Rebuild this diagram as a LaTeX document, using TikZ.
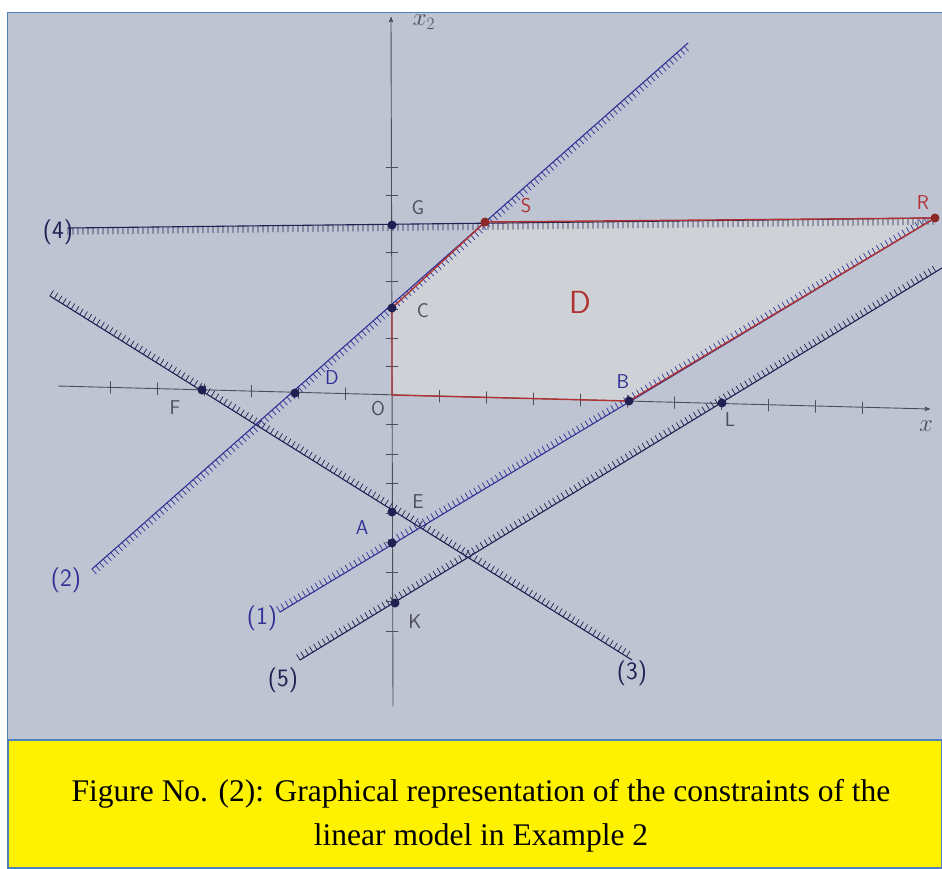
\documentclass[tikz,border=0pt]{standalone}
\usepackage{fontspec}
\setmainfont{Liberation Serif}
\usepackage{tikz}
\usetikzlibrary{arrows,positioning,decorations.pathreplacing}

\definecolor{paper}{RGB}{190,196,210}
\definecolor{regionfill}{RGB}{206,209,214}
\definecolor{inkblue}{RGB}{50,50,150}
\definecolor{inknavy}{RGB}{32,32,82}
\definecolor{pencil}{RGB}{78,78,90}
\definecolor{redink}{RGB}{176,50,50}
\definecolor{frameblue}{RGB}{79,129,189}

\tikzset{
	hatchL/.style={postaction={draw,line width=0.7pt,decorate,decoration={border,segment length=5pt,amplitude=6.5pt,angle=90}}},
	hatchR/.style={postaction={draw,line width=0.7pt,decorate,decoration={border,segment length=5pt,amplitude=-6.5pt,angle=90}}},
	lbl/.style={font=\sffamily\fontsize{20}{22}\selectfont,text=pencil},
	cstr/.style={font=\sffamily\fontsize{25}{27}\selectfont},
	axis/.style={draw=pencil,line width=0.9pt},
}

\begin{document}
\begin{tikzpicture}[x=1pt,y=-1pt,>=stealth',line cap=round]
	\useasboundingbox (0,0) rectangle (942,868);
	\fill[white] (0,0) rectangle (942,868);
	\filldraw[fill=paper,draw=frameblue] (7,12) rectangle (942,740);
	\filldraw[fill=yellow,draw=frameblue,line width=1.2pt] (8,740) rectangle (942,868);
	\node[font=\fontsize{31.5}{44}\selectfont,align=center] (cap) at (481,816)
		{Figure No. (2): Graphical representation of the constraints of the\\linear model in Example 2};

	% corner points
	\coordinate (O) at (392,395);
	\coordinate (G) at (392,225);
	\coordinate (C) at (392,308);
	\coordinate (S) at (485,222);
	\coordinate (R) at (935,218);
	\coordinate (B) at (629,401);
	\coordinate (L) at (722,403);
	\coordinate (F) at (202,390);
	\coordinate (D) at (295,393);
	\coordinate (E) at (392,512);
	\coordinate (A) at (392,543);
	\coordinate (K) at (395,603);

	% line ends
	\coordinate (p1) at (280,612);
	\coordinate (p2) at (92,569);
	\coordinate (q2) at (688,43);
	\coordinate (p3) at (50,296);
	\coordinate (q3) at (632,660);
	\coordinate (p4) at (68,228);
	\coordinate (p5) at (300,660);
	\coordinate (q5) at (942,268);
	\coordinate (ybot) at (393,706);
	\coordinate (ytop) at (391,17);
	\coordinate (xl) at (58,386);
	\coordinate (xr) at (930,409);

	\fill[regionfill] (O) -- (C) -- (S) -- (R) -- (B) -- cycle;

	% axes
	\draw[axis,->] (ybot) -- (ytop);
	\draw[axis,->] (xl) -- (xr);
	\foreach \k in {-6,...,-1,1,2,...,10}
		\draw[pencil] ({392+47*\k},{389+1.27*\k}) -- ++(0,12);
	\foreach \y in {167,195.5,224,252.5,281,309.5,338,366.5,424.5,454,483.5,513,542.5,572,601.5,631}
		\draw[pencil] (386,\y) -- (398,\y);

	% constraints
	\draw[inkblue,line width=1.1pt,hatchL] (p1) -- (R);
	\draw[inkblue,line width=1.1pt,hatchR] (p2) -- (q2);
	\draw[inknavy,line width=1.1pt,hatchL] (p3) -- (q3);
	\draw[inknavy,line width=1.1pt,hatchR] (p4) -- (R);
	\draw[inknavy,line width=1.1pt,hatchL] (p5) -- (q5);

	\draw[redink,line width=1.4pt] (O) -- (C) -- (S) -- (R) -- (B) -- cycle;

	\foreach \p in {G,C,D,F,B,L,E,A,K}
		\fill[inknavy] (\p) circle (4.5);
	\foreach \p in {S,R}
		\fill[redink!80!black] (\p) circle (4.5);

	% labels
	\node[lbl,font=\fontsize{24}{26}\selectfont] (lx2) at (424,22) {$x_2$};
	\node[lbl] (lG) at (418,208) {G};
	\node[lbl,text=redink] (lS) at (526,206) {S};
	\node[lbl,text=redink] (lR) at (923,203) {R};
	\node[lbl] (lC) at (423,311) {C};
	\node[lbl,text=inkblue] (lD) at (332,378) {D};
	\node[lbl] (lF) at (175,408) {F};
	\node[lbl] (lO) at (378,409) {O};
	\node[lbl,text=inkblue] (lB) at (623,382) {B};
	\node[lbl] (lL) at (730,420) {L};
	\node[lbl,font=\fontsize{24}{26}\selectfont] (lx) at (926,426) {$x$};
	\node[lbl] (lE) at (418,502) {E};
	\node[lbl,text=inkblue] (lA) at (362,528) {A};
	\node[lbl] (lK) at (415,622) {K};
	\node[font=\sffamily\fontsize{32}{34}\selectfont,text=redink] (reg) at (580,302) {D};

	\node[cstr,text=inkblue] (c1) at (262,618) {(1)};
	\node[cstr,text=inkblue] (c2) at (66,580) {(2)};
	\node[cstr,text=inknavy] (c3) at (632,673) {(3)};
	\node[cstr,text=inknavy] (c4) at (58,232) {(4)};
	\node[cstr,text=inknavy] (c5) at (283,680) {(5)};
\end{tikzpicture}
\end{document}
